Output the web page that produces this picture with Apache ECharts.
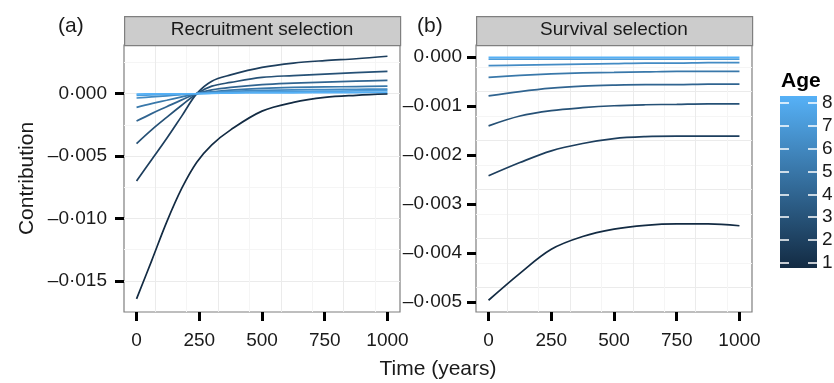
<!DOCTYPE html>
<html>
<head>
<meta charset="utf-8">
<script src="https://cdn.jsdelivr.net/npm/echarts@6/dist/echarts.min.js"></script>
<style>
  html, body { margin: 0; padding: 0; background: #fff; }
  #chart { width: 834px; height: 383px; }
</style>
</head>
<body>
<div id="chart"></div>
<script>
// ---- data ----
const ages = [1, 2, 3, 4, 5, 6, 7, 8];

// (a) recruitment selection
const timeA = [0, 60, 120, 180, 240, 300, 375, 500, 625, 750, 875, 1000];
const recruitment = [
  [-0.01645, -0.0134, -0.0103, -0.0076, -0.0055, -0.0041, -0.0029, -0.0014, -0.0007, -0.0003, -0.00013, -0.00002],
  [-0.0070, -0.0053, -0.0036, -0.0018, 0.0000, 0.0010, 0.0015, 0.0021, 0.00245, 0.00265, 0.0028, 0.0030],
  [-0.0040, -0.0029, -0.0019, -0.00093, 0.0000, 0.0006, 0.0009, 0.0013, 0.00145, 0.00157, 0.00168, 0.00178],
  [-0.0022, -0.0016, -0.00105, -0.0005, 0.0000, 0.0003, 0.0005, 0.00072, 0.00084, 0.00093, 0.0010, 0.00106],
  [-0.0011, -0.0008, -0.00053, -0.00026, 0.0000, 0.00015, 0.00028, 0.00042, 0.0005, 0.00054, 0.00057, 0.0006],
  [-0.00035, -0.00026, -0.00017, -0.00008, 0.0000, 0.0001, 0.00018, 0.00026, 0.0003, 0.00033, 0.00035, 0.00037],
  [-0.00013, -0.0001, -0.00007, -0.00003, 0.0000, 0.00005, 0.0001, 0.00015, 0.00018, 0.0002, 0.00022, 0.00024],
  [-0.00003, -0.00002, -0.00002, -0.00001, 0.0000, 0.00002, 0.00004, 0.00006, 0.00007, 0.00008, 0.00009, 0.0001]
];

// (b) survival selection
const timeB = [0, 125, 250, 375, 500, 625, 750, 875, 1000];
const survival = [
  [-0.00496, -0.00441, -0.00392, -0.00366, -0.00351, -0.00343, -0.0034, -0.0034, -0.00344],
  [-0.00242, -0.00215, -0.00191, -0.00176, -0.00166, -0.00162, -0.00161, -0.00161, -0.00161],
  [-0.0014, -0.0012, -0.00109, -0.00103, -0.00099, -0.00097, -0.00096, -0.00095, -0.00095],
  [-0.00079, -0.0007, -0.00063, -0.00059, -0.00057, -0.00056, -0.00056, -0.00055, -0.00055],
  [-0.00041, -0.00037, -0.00034, -0.00032, -0.00031, -0.0003, -0.00029, -0.00029, -0.00029],
  [-0.00017, -0.00016, -0.00015, -0.00014, -0.00013, -0.00012, -0.00012, -0.00011, -0.00011],
  [-0.00004, -0.00004, -0.00004, -0.00004, -0.00004, -0.00004, -0.00004, -0.00004, -0.00004],
  [0, 0, 0, 0, 0, 0, 0, 0, 0]
];

const xTicks = [0, 250, 500, 750, 1000];
const yTicksA = [-0.015, -0.010, -0.005, 0];
const yTicksB = [-0.005, -0.004, -0.003, -0.002, -0.001, 0];
const ageBarRange = [0.78, 8.3];

// ---- styling ----
const FONT = '"Liberation Sans", Arial, Helvetica, sans-serif';
const MAJOR = '#EBEBEB', MINOR = '#F5F5F5', BORDER = '#7F7F7F', INK = '#1a1a1a';
const LOW = [0x13, 0x2B, 0x43], HIGH = [0x56, 0xB1, 0xF7];
const panelA = { left: 124, top: 45, width: 276, height: 267 };
const panelB = { left: 476, top: 45, width: 276, height: 267 };
const TICK = { length: 9, lineStyle: { color: '#000', width: 3 } };

function ageColor(a) {
  const t = (a - 1) / 7;
  return 'rgb(' + LOW.map((c, i) => Math.round(c + (HIGH[i] - c) * t)).join(',') + ')';
}
function fmt(v) {
  return (v < -1e-12 ? '\u2013' : '') + Math.abs(v).toFixed(3).replace('.', '\u00B7');
}

function mainX(g) {
  return {
    type: 'value', gridIndex: g, min: -50, max: 1050, position: 'bottom',
    axisLine: { show: false, onZero: false },
    axisTick: Object.assign({ show: true, customValues: xTicks }, TICK),
    axisLabel: { customValues: xTicks, margin: 19, fontSize: 19, color: INK, fontFamily: FONT,
      formatter: v => String(v) },
    splitLine: { show: false }
  };
}
function lineX(g) {
  return {
    type: 'value', gridIndex: g, min: -50, max: 1050, interval: 125, position: 'top',
    axisLine: { show: false, onZero: false }, axisTick: { show: false }, axisLabel: { show: false },
    splitLine: { show: true, showMinLine: false, showMaxLine: false, lineStyle: { color: [MAJOR, MINOR], width: 1 } }
  };
}
function mainY(g, min, max, ticks, margin, extra) {
  return Object.assign({
    type: 'value', gridIndex: g, min: min, max: max, position: 'left',
    axisLine: { show: false, onZero: false },
    axisTick: Object.assign({ show: true, customValues: ticks }, TICK),
    axisLabel: { customValues: ticks, margin: margin, fontSize: 19, color: INK, fontFamily: FONT, formatter: fmt },
    splitLine: { show: false }
  }, extra || {});
}
function lineY(g, min, max, step) {
  return {
    type: 'value', gridIndex: g, min: min, max: max, interval: step, position: 'right',
    axisLine: { show: false, onZero: false }, axisTick: { show: false }, axisLabel: { show: false },
    splitLine: { show: true, showMinLine: false, showMaxLine: false, lineStyle: { color: [MAJOR, MINOR], width: 1 } }
  };
}
function legendY(pos, labels) {
  return {
    type: 'value', gridIndex: 2, min: ageBarRange[0], max: ageBarRange[1], position: pos, z: 5,
    axisLine: { show: false, onZero: false },
    axisTick: { show: true, inside: true, customValues: ages, length: 9, lineStyle: { color: '#fff', width: 1.5 } },
    axisLabel: labels
      ? { customValues: ages, margin: 5, fontSize: 19, color: INK, fontFamily: FONT }
      : { show: false },
    splitLine: { show: false }
  };
}

const series = [];
ages.forEach((a, i) => {
  series.push({
    type: 'line', xAxisIndex: 0, yAxisIndex: 0, silent: true,
    data: timeA.map((t, j) => [t, recruitment[i][j]]),
    smooth: 0.35, showSymbol: false,
    lineStyle: { color: ageColor(a), width: 1.7 }, itemStyle: { color: ageColor(a) }
  });
});
ages.forEach((a, i) => {
  series.push({
    type: 'line', xAxisIndex: 2, yAxisIndex: 2, silent: true,
    data: timeB.map((t, j) => [t, survival[i][j]]),
    smooth: 0.35, showSymbol: false,
    lineStyle: { color: ageColor(a), width: 1.7 }, itemStyle: { color: ageColor(a) }
  });
});
// colour bar
series.push({
  type: 'custom', xAxisIndex: 4, yAxisIndex: 4, silent: true,
  data: [[0, ageBarRange[0], ageBarRange[1]]],
  renderItem: function (params, api) {
    const p0 = api.coord([0, api.value(1)]);
    const p1 = api.coord([0, api.value(2)]);
    const w = api.size([1, 0])[0];
    return {
      type: 'rect',
      shape: { x: p0[0] - w / 2, y: p1[1], width: w, height: p0[1] - p1[1] },
      style: {
        fill: new echarts.graphic.LinearGradient(0, 0, 0, 1, [
          { offset: 0, color: ageColor(8) },
          { offset: 1, color: ageColor(1) }
        ])
      }
    };
  }
});

function gridOf(p) {
  return Object.assign({ show: true, borderColor: BORDER, borderWidth: 1.2, backgroundColor: '#fff',
    outerBoundsMode: 'none' }, p);
}
function strip(p) {
  return { type: 'rect', left: p.left, top: 16, z: 10,
    shape: { width: p.width, height: p.top - 16 },
    style: { fill: '#CCCCCC', stroke: BORDER, lineWidth: 1.2 } };
}
const titleFont = { fontFamily: FONT, fontWeight: 'normal', color: INK };

const option = {
  animation: false,
  textStyle: { fontFamily: FONT },
  title: [
    { text: '(a)', left: 53, top: 11, textStyle: Object.assign({ fontSize: 21 }, titleFont) },
    { text: '(b)', left: 412, top: 11, textStyle: Object.assign({ fontSize: 21 }, titleFont) },
    { text: 'Recruitment selection', left: panelA.left + panelA.width / 2, textAlign: 'center', top: 20, z: 12,
      padding: 0, textStyle: Object.assign({ fontSize: 19 }, titleFont) },
    { text: 'Survival selection', left: panelB.left + panelB.width / 2, textAlign: 'center', top: 20, z: 12,
      padding: 0, textStyle: Object.assign({ fontSize: 19 }, titleFont) },
    { text: 'Time (years)', left: (panelA.left + panelB.left + panelB.width) / 2, textAlign: 'center', top: 359,
      padding: 0, textStyle: Object.assign({ fontSize: 21 }, titleFont) },
    { text: 'Age', left: 781, top: 71, padding: 0,
      textStyle: { fontSize: 21, fontWeight: 'bold', color: '#000', fontFamily: FONT } }
  ],
  graphic: [strip(panelA), strip(panelB)],
  grid: [
    gridOf(panelA),
    gridOf(panelB),
    { left: 780, top: 96, width: 37, height: 172, show: false, outerBoundsMode: 'none' }
  ],
  xAxis: [
    mainX(0), lineX(0), mainX(1), lineX(1),
    { type: 'category', gridIndex: 2, data: ['Age'], show: false }
  ],
  yAxis: [
    mainY(0, -0.0175, 0.0039, yTicksA, 17, {
      name: 'Contribution', nameLocation: 'middle', nameGap: 86,
      nameTextStyle: { fontSize: 21, color: INK, fontFamily: FONT }
    }),
    lineY(0, -0.0175, 0.0039, 0.0025),
    mainY(1, -0.0052, 0.00025, yTicksB, 14),
    lineY(1, -0.0052, 0.00025, 0.0005),
    legendY('left', false),
    legendY('right', true)
  ],
  series: series
};

const chart = echarts.init(document.getElementById('chart'), null, { renderer: 'canvas' });
chart.setOption(option);
</script>
</body>
</html>
